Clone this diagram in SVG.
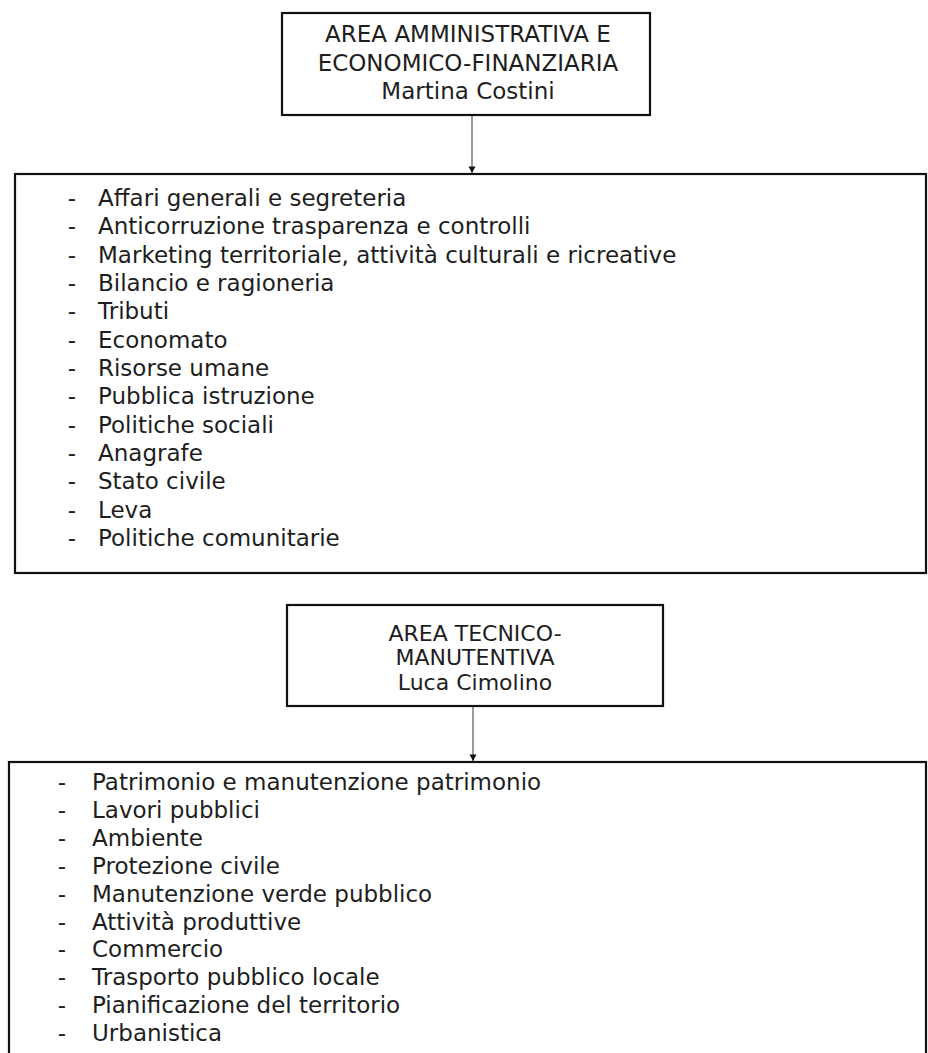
<svg xmlns="http://www.w3.org/2000/svg" width="928" height="1053" viewBox="0 0 928 1053">
<defs>
<style>
.box{fill:#fff;stroke:#111;stroke-width:2.2}
.t{font-family:"DejaVu Sans",Verdana,sans-serif;font-size:23px;fill:#1e1e1e}
.h{text-anchor:middle}
.h2{font-size:22px}
.d{text-anchor:middle}
.con{stroke:#555;stroke-width:1.2;fill:none}
</style>
<marker id="ah" markerWidth="8" markerHeight="8" refX="7" refY="4" orient="auto" markerUnits="userSpaceOnUse" viewBox="0 0 8 8">
<path d="M0.5,0.5 L7,4 L0.5,7.5 Z" fill="#111"/>
</marker>
</defs>
<rect width="928" height="1053" fill="#fff"/>
<g id="area1">
<rect class="box" x="282" y="13" width="368" height="102"/>
<text class="t h" x="468" y="42">AREA AMMINISTRATIVA E</text>
<text class="t h" x="468" y="71">ECONOMICO-FINANZIARIA</text>
<text class="t h" x="468" y="99">Martina Costini</text>
</g>
<g id="list1">
<rect class="box" x="15" y="174" width="911" height="399"/>
<g class="t">
<text class="d" x="72" y="206">-</text><text x="98" y="206">Affari generali e segreteria</text>
<text class="d" x="72" y="234.3">-</text><text x="98" y="234.3">Anticorruzione trasparenza e controlli</text>
<text class="d" x="72" y="262.7">-</text><text x="98" y="262.7">Marketing territoriale, attività culturali e ricreative</text>
<text class="d" x="72" y="291">-</text><text x="98" y="291">Bilancio e ragioneria</text>
<text class="d" x="72" y="319.3">-</text><text x="98" y="319.3">Tributi</text>
<text class="d" x="72" y="347.7">-</text><text x="98" y="347.7">Economato</text>
<text class="d" x="72" y="376">-</text><text x="98" y="376">Risorse umane</text>
<text class="d" x="72" y="404.3">-</text><text x="98" y="404.3">Pubblica istruzione</text>
<text class="d" x="72" y="432.7">-</text><text x="98" y="432.7">Politiche sociali</text>
<text class="d" x="72" y="461">-</text><text x="98" y="461">Anagrafe</text>
<text class="d" x="72" y="489.3">-</text><text x="98" y="489.3">Stato civile</text>
<text class="d" x="72" y="517.7">-</text><text x="98" y="517.7">Leva</text>
<text class="d" x="72" y="546">-</text><text x="98" y="546">Politiche comunitarie</text>
</g>
</g>
<g id="area2">
<rect class="box" x="287" y="605" width="376" height="101"/>
<text class="t h h2" x="475" y="641">AREA TECNICO-</text>
<text class="t h h2" x="475" y="665">MANUTENTIVA</text>
<text class="t h h2" x="475" y="690">Luca Cimolino</text>
</g>
<g id="list2">
<rect class="box" x="9" y="762" width="917" height="300"/>
<g class="t">
<text class="d" x="62" y="790">-</text><text x="92" y="790">Patrimonio e manutenzione patrimonio</text>
<text class="d" x="62" y="817.9">-</text><text x="92" y="817.9">Lavori pubblici</text>
<text class="d" x="62" y="845.8">-</text><text x="92" y="845.8">Ambiente</text>
<text class="d" x="62" y="873.7">-</text><text x="92" y="873.7">Protezione civile</text>
<text class="d" x="62" y="901.6">-</text><text x="92" y="901.6">Manutenzione verde pubblico</text>
<text class="d" x="62" y="929.5">-</text><text x="92" y="929.5">Attività produttive</text>
<text class="d" x="62" y="957.4">-</text><text x="92" y="957.4">Commercio</text>
<text class="d" x="62" y="985.3">-</text><text x="92" y="985.3">Trasporto pubblico locale</text>
<text class="d" x="62" y="1013.2">-</text><text x="92" y="1013.2">Pianificazione del territorio</text>
<text class="d" x="62" y="1041.1">-</text><text x="92" y="1041.1">Urbanistica</text>
</g>
</g>
<g id="connectors">
<line class="con" x1="472" y1="116" x2="472" y2="173" marker-end="url(#ah)"/>
<line class="con" x1="473" y1="707" x2="473" y2="761" marker-end="url(#ah)"/>
</g>
</svg>
